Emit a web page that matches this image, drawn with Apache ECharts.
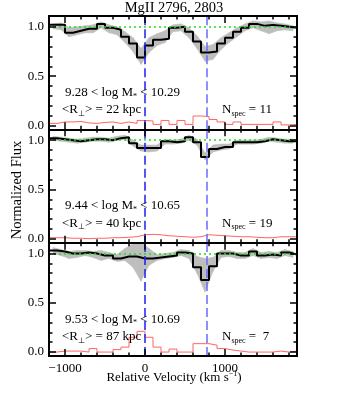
<!DOCTYPE html>
<html>
<head>
  <meta charset="utf-8">
</head>
<body style="margin: 0; background: #fff">
  <div id="container" style="width: 349px; height: 402px"></div>
  <script src="https://cdn.jsdelivr.net/npm/echarts@6/dist/echarts.min.js"></script>
  <script>
// bin centres (km/s), 100 km/s bins
var velocity = [-1150, -1050, -950, -850, -750, -650, -550, -450, -350, -250, -150, -50,
  50, 150, 250, 350, 450, 550, 650, 750, 850, 950, 1050, 1150, 1250, 1350, 1450, 1550, 1650, 1750, 1850];
var binWidth = 100;
var doublet = [0, 769];
var xTicks = [-1000, 0, 1000];
var xMinor = [-1200, -800, -600, -400, -200, 200, 400, 600, 800, 1200, 1400, 1600, 1800];
var yTicks = [0, 0.5, 1.0];
var yMinor = [0.1, 0.2, 0.3, 0.4, 0.6, 0.7, 0.8, 0.9];

// panel 1
var flux1 = [1.02, 1.02, 0.94, 0.96, 0.98, 0.98, 1.03, 0.99, 0.97, 0.90, 0.83, 0.69, 0.81, 0.87, 0.88, 0.99,
  1.00, 0.95, 0.85, 0.74, 0.75, 0.83, 0.89, 0.95, 0.99, 1.03, 1.01, 1.02, 1.01, 1.00, 0.99];
var low1 = [0.98, 0.97, 0.90, 0.92, 0.94, 0.94, 0.99, 0.94, 0.92, 0.84, 0.75, 0.62, 0.74, 0.81, 0.84, 0.95,
  0.96, 0.89, 0.78, 0.65, 0.67, 0.77, 0.84, 0.90, 0.96, 0.99, 0.96, 0.93, 0.96, 0.97, 0.96];
var high1 = [1.03, 1.04, 0.99, 1.00, 1.01, 1.02, 1.05, 1.02, 1.00, 0.95, 0.89, 0.78, 0.89, 0.93, 0.96, 1.02,
  1.03, 0.99, 0.91, 0.80, 0.82, 0.89, 0.94, 0.99, 1.03, 1.06, 1.05, 1.06, 1.04, 1.03, 1.01];
var noise1 = [0.02, 0.035, 0.035, 0.04, 0.025, 0.02, 0.03, 0.035, 0.02, 0.035, 0.02, 0.05, 0.045, 0.01, 0.05, 0.01,
  0.05, 0.01, 0.095, 0.09, 0.06, 0.035, 0.01, 0.035, 0.01, 0.01, 0.01, 0.01, 0.035, 0.005, 0.01];

// panel 2
var flux2 = [1.02, 1.01, 1.00, 0.99, 1.00, 1.01, 1.01, 1.00, 1.02, 1.03, 0.97, 0.92, 0.92, 0.92, 0.99, 0.98,
  0.99, 1.03, 0.98, 0.83, 0.91, 0.93, 0.93, 0.98, 0.98, 0.98, 0.99, 1.01, 1.00, 0.99, 0.99];
var low2 = [1.00, 0.99, 0.98, 0.97, 0.98, 0.99, 0.99, 0.98, 1.00, 1.01, 0.94, 0.89, 0.88, 0.89, 0.96, 0.96,
  0.97, 1.00, 0.95, 0.80, 0.88, 0.90, 0.91, 0.96, 0.96, 0.96, 0.97, 0.99, 0.98, 0.97, 0.97];
var high2 = [1.04, 1.03, 1.02, 1.01, 1.02, 1.03, 1.03, 1.02, 1.04, 1.05, 1.00, 0.95, 0.95, 0.95, 1.01, 1.00,
  1.01, 1.05, 1.01, 0.87, 0.95, 0.96, 0.96, 1.00, 1.00, 1.00, 1.01, 1.03, 1.02, 1.01, 1.01];
var noise2 = [0.01, 0.01, 0.005, 0.005, 0.0, 0.005, 0.005, 0.01, 0.01, 0.015, 0.02, 0.04, 0.045, 0.04, 0.03, 0.025,
  0.02, 0.015, 0.02, 0.04, 0.035, 0.03, 0.025, 0.02, 0.02, 0.015, 0.01, 0.01, 0.02, 0.02, 0.02];

// panel 3
var flux3 = [1.03, 1.02, 1.00, 1.00, 1.01, 1.00, 0.98, 0.98, 0.95, 0.97, 0.97, 0.95, 0.95, 0.96, 0.97, 0.98,
  1.01, 1.00, 0.86, 0.73, 0.87, 1.00, 1.00, 0.98, 0.98, 1.02, 0.98, 0.99, 0.98, 1.01, 0.99];
var low3 = [1.00, 0.98, 0.95, 0.96, 0.98, 0.96, 0.93, 0.95, 0.92, 0.93, 0.86, 0.72, 0.88, 0.93, 0.95, 0.96,
  0.98, 0.95, 0.80, 0.61, 0.82, 0.96, 0.97, 0.95, 0.95, 0.98, 0.95, 0.96, 0.95, 0.98, 0.96];
var high3 = [1.06, 1.04, 1.02, 1.03, 1.03, 1.02, 1.03, 1.01, 0.99, 1.05, 1.10, 1.16, 1.05, 0.99, 1.00, 1.01,
  1.04, 1.03, 0.97, 0.95, 0.96, 1.03, 1.03, 1.01, 1.01, 1.05, 1.01, 1.02, 1.01, 1.04, 1.02];
var noise3 = [0.0, 0.01, 0.01, 0.01, 0.0, 0.035, 0.0, 0.0, 0.025, 0.05, 0.15, 0.21, 0.15, 0.05, 0.0, 0.03,
  0.0, 0.0, 0.085, 0.085, 0.07, 0.035, 0.02, 0.01, 0.0, 0.0, 0.0, 0.0, 0.01, 0.0, 0.01];

var massLow = ['9.28', '9.44', '9.53'];
var massHigh = ['10.29', '10.65', '10.69'];
var radius = [22, 40, 87];
var nSpec = ['11', '19', ' 7'];

var panels = [
  {flux: flux1, low: low1, high: high1, noise: noise1},
  {flux: flux2, low: low2, high: high2, noise: noise2},
  {flux: flux3, low: low3, high: high3, noise: noise3}
];

var FONT = 'Liberation Serif, Times New Roman, serif';
var gridTop = 16, gridH = 113.33;

function stepData(vals) {
  var pts = velocity.map(function (v, k) { return [v - binWidth / 2, vals[k]]; });
  pts.push([velocity[velocity.length - 1] + binWidth / 2, vals[vals.length - 1]]);
  return pts;
}

function xAxisDef(i, pos, ticks, len, labels) {
  return {
    type: 'value', gridIndex: i, position: pos, min: -1200, max: 1900, z: 10,
    axisLine: {show: true, onZero: false, lineStyle: {color: '#000', width: 2}},
    axisTick: {show: true, inside: true, length: len, customValues: ticks, lineStyle: {color: '#000', width: 1.5}},
    axisLabel: labels ? {
      show: true, customValues: xTicks, margin: 6, color: '#000', fontFamily: FONT, fontSize: 13,
      formatter: function (v) { return String(v).replace('-', '\u2212'); }
    } : {show: false},
    splitLine: {show: false}
  };
}

function yAxisDef(i, pos, ticks, len, labels) {
  return {
    type: 'value', gridIndex: i, position: pos, min: -0.04, max: 1.11, z: 10,
    axisLine: {show: true, onZero: false, lineStyle: {color: '#000', width: 2}},
    axisTick: {show: true, inside: true, length: len, customValues: ticks, lineStyle: {color: '#000', width: 1.5}},
    axisLabel: labels ? {
      show: true, customValues: yTicks, margin: 5, color: '#000', fontFamily: FONT, fontSize: 13,
      formatter: function (v) { return v.toFixed(1); }
    } : {show: false},
    splitLine: {show: false}
  };
}

// grey confidence band: one quad between neighbouring bin centres
function bandRenderer(low, high) {
  return function (params, api) {
    var k = params.dataIndex;
    if (k >= velocity.length - 1) return null;
    var pts = [
      api.coord([velocity[k], low[k]]),
      api.coord([velocity[k + 1], low[k + 1]]),
      api.coord([velocity[k + 1], high[k + 1]]),
      api.coord([velocity[k], high[k]])
    ];
    var cs = params.coordSys;
    pts = echarts.graphic.clipPointsByRect(pts, {x: cs.x, y: cs.y, width: cs.width, height: cs.height});
    return {
      type: 'polygon', shape: {points: pts},
      style: {fill: '#bebebe', stroke: '#bebebe', lineWidth: 0.6}
    };
  };
}

var grids = [], xAxes = [], yAxes = [], series = [], graphics = [];

panels.forEach(function (p, i) {
  grids.push({left: 49, right: 52, top: gridTop + i * gridH, height: gridH});
  xAxes.push(xAxisDef(i, 'bottom', xTicks, 7, i === 2));
  xAxes.push(xAxisDef(i, 'bottom', xMinor, 3.5, false));
  xAxes.push(xAxisDef(i, 'top', xTicks, 7, false));
  xAxes.push(xAxisDef(i, 'top', xMinor, 3.5, false));
  yAxes.push(yAxisDef(i, 'left', yTicks, 7, true));
  yAxes.push(yAxisDef(i, 'left', yMinor, 3.5, false));
  yAxes.push(yAxisDef(i, 'right', yTicks, 7, false));
  yAxes.push(yAxisDef(i, 'right', yMinor, 3.5, false));

  var ax = {xAxisIndex: 4 * i, yAxisIndex: 4 * i};

  series.push(Object.assign({
    type: 'custom', silent: true, z: 1,
    data: velocity.map(function (v, k) { return [v, p.low[k], p.high[k]]; }),
    encode: {x: 0, y: [1, 2]},
    renderItem: bandRenderer(p.low, p.high)
  }, ax));

  // continuum level
  series.push(Object.assign({
    type: 'line', data: [], silent: true, z: 2,
    markLine: {
      silent: true, symbol: 'none', label: {show: false}, animation: false,
      data: [
        {yAxis: 1, lineStyle: {color: '#22dd22', type: [2, 3], width: 1.5}}
      ]
    }
  }, ax));

  // noise spectrum
  series.push(Object.assign({
    type: 'line', step: 'end', symbol: 'none', silent: true, z: 3,
    data: stepData(p.noise),
    lineStyle: {color: '#ff6464', width: 1}
  }, ax));

  // stacked flux
  series.push(Object.assign({
    type: 'line', step: 'end', symbol: 'none', silent: true, z: 4,
    data: stepData(p.flux),
    lineStyle: {color: '#000', width: 2}
  }, ax));

  series.push(Object.assign({
    type: 'line', data: [], silent: true, z: 5,
    markLine: {
      silent: true, symbol: 'none', label: {show: false}, animation: false,
      data: [
        {xAxis: doublet[0], lineStyle: {color: '#1e1ef0', type: [9, 4], width: 1.5}},
        {xAxis: doublet[1], lineStyle: {color: '#6a6aff', type: [9, 4], width: 1.5}}
      ]
    }
  }, ax));

  var dy = i * gridH;
  var rich = {
    a: {fontFamily: FONT, fontSize: 13, fill: '#000', lineHeight: 16},
    s: {fontFamily: FONT, fontSize: 8, fill: '#000', verticalAlign: 'bottom'}
  };
  graphics.push({
    type: 'text', x: 65, y: 92.5 + dy, z: 20,
    style: {text: '{a|' + massLow[i] + ' < log M}{s|*}{a| < ' + massHigh[i] + '}', rich: rich, verticalAlign: 'middle'}
  });
  graphics.push({
    type: 'text', x: 62, y: 110 + dy, z: 20,
    style: {text: '{a|<R}{s|\u22a5}{a|> = ' + radius[i] + ' kpc}', rich: rich, verticalAlign: 'middle'}
  });
  graphics.push({
    type: 'text', x: 222, y: 110 + dy, z: 20,
    style: {text: '{a|N}{s|spec}{a| = ' + nSpec[i] + '}', rich: rich, verticalAlign: 'middle'}
  });
});

graphics.push({
  type: 'text', x: 174, y: 8,
  style: {text: 'MgII 2796, 2803', fontFamily: FONT, fontSize: 14.5, fill: '#000', align: 'center', verticalAlign: 'middle'}
});
graphics.push({
  type: 'text', x: 17, y: 190, rotation: Math.PI / 2,
  style: {text: 'Normalized Flux', fontFamily: FONT, fontSize: 14.5, fill: '#000', align: 'center', verticalAlign: 'middle'}
});
graphics.push({
  type: 'text', x: 174, y: 378,
  style: {
    text: '{a|Relative Velocity (km s}{p|\u22121}{a|)}',
    rich: {
      a: {fontFamily: FONT, fontSize: 13, fill: '#000', lineHeight: 16},
      p: {fontFamily: FONT, fontSize: 8, fill: '#000', verticalAlign: 'top'}
    },
    align: 'center', verticalAlign: 'middle'
  }
});

var chart = echarts.init(document.getElementById('container'), null, {renderer: 'canvas'});
chart.setOption({
  animation: false,
  backgroundColor: '#fff',
  grid: grids,
  xAxis: xAxes,
  yAxis: yAxes,
  series: series,
  graphic: graphics
});
  </script>
</body>
</html>
